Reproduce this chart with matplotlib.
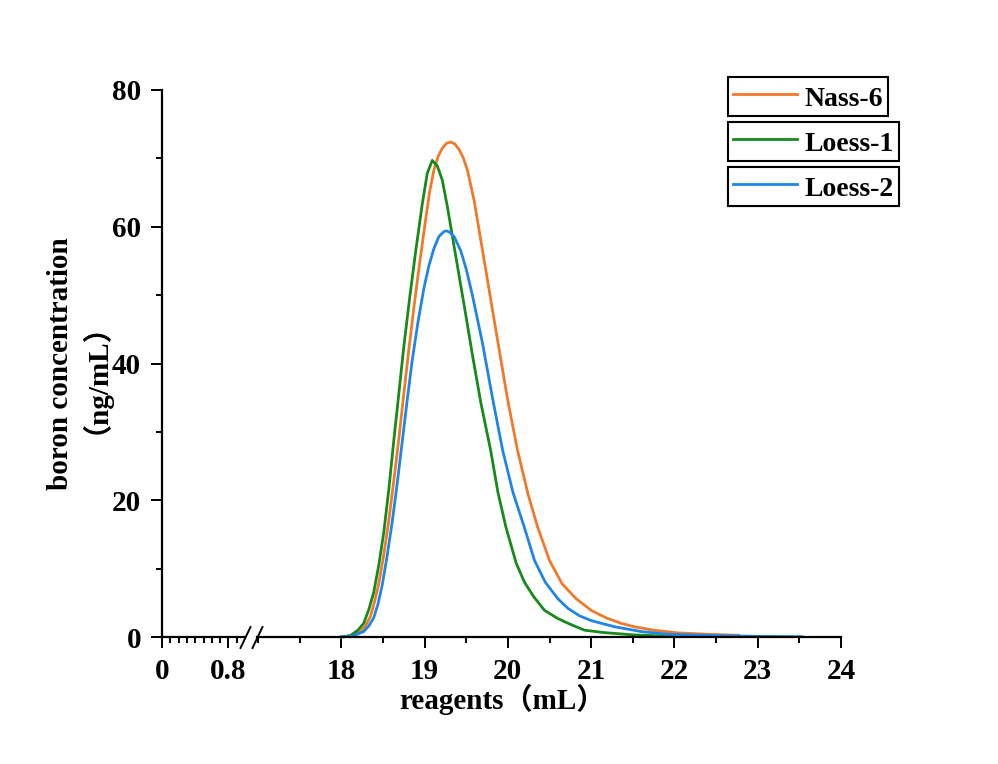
import numpy as np
import matplotlib.pyplot as plt
from matplotlib.lines import Line2D
from matplotlib.ticker import MultipleLocator, FixedLocator

plt.rcParams['font.family'] = ['Liberation Serif', 'Noto Sans CJK SC', 'DejaVu Sans']
plt.rcParams['font.weight'] = 'bold'
plt.rcParams['font.size'] = 20

# values
nass6_x = [18.0, 18.12, 18.229, 18.29, 18.349, 18.4, 18.45, 18.51, 18.57, 18.63,
           18.691, 18.75, 18.811, 18.87, 18.932, 19.012, 19.062, 19.112, 19.163, 19.213,
           19.263, 19.313, 19.364, 19.414, 19.464, 19.514, 19.594, 19.695, 19.795, 19.896,
           19.996, 20.116, 20.24, 20.357, 20.5, 20.65, 20.82, 21.0, 21.18, 21.36,
           21.52, 21.75, 22.04, 22.4, 22.77]
nass6_y = [0.0, 0.2, 0.8, 1.6, 3.0, 5.2, 7.8, 12.0, 17.0, 22.8,
           29.0, 35.5, 42.0, 48.0, 53.9, 61.0, 65.2, 68.3, 70.3, 71.5,
           72.2, 72.4, 72.1, 71.3, 70.1, 68.3, 63.9, 56.6, 49.3, 42.0,
           34.8, 27.3, 21.0, 16.1, 11.2, 7.8, 5.6, 3.9, 2.8, 2.0,
           1.5, 1.0, 0.6, 0.4, 0.25]

loess1_x = [18.0, 18.108, 18.2, 18.269, 18.33, 18.389, 18.45, 18.51, 18.57, 18.631,
            18.69, 18.751, 18.82, 18.892, 18.972, 19.032, 19.092, 19.153, 19.213, 19.273,
            19.373, 19.474, 19.574, 19.675, 19.795, 19.88, 19.976, 20.1, 20.2, 20.31,
            20.44, 20.6, 20.76, 20.92, 21.15, 21.36, 21.52, 22.0]
loess1_y = [0.0, 0.2, 1.0, 2.0, 4.0, 6.5, 10.5, 15.3, 21.5, 28.8,
            35.5, 42.5, 49.5, 56.3, 63.3, 67.8, 69.7, 68.9, 66.8, 63.0,
            55.8, 48.6, 41.3, 34.3, 27.2, 21.2, 16.1, 10.8, 8.0, 5.9,
            3.9, 2.7, 1.8, 1.0, 0.65, 0.45, 0.3, 0.1]

loess2_x = [18.0, 18.14, 18.269, 18.33, 18.389, 18.44, 18.49, 18.55, 18.611, 18.67,
            18.731, 18.79, 18.852, 18.92, 18.992, 19.05, 19.112, 19.173, 19.233, 19.265,
            19.3, 19.353, 19.434, 19.5, 19.574, 19.695, 19.815, 19.936, 20.06, 20.196,
            20.32, 20.45, 20.6, 20.72, 20.86, 21.0, 21.28, 21.6, 21.92, 22.5,
            23.0, 23.53]
loess2_y = [0.0, 0.15, 0.8, 1.6, 2.8, 4.8, 7.5, 11.8, 16.8, 22.3,
            28.5, 34.5, 40.5, 46.0, 51.0, 54.2, 56.8, 58.6, 59.3, 59.4,
            59.2, 58.6, 56.5, 53.8, 50.0, 43.0, 35.0, 27.4, 21.2, 16.1,
            11.2, 8.0, 5.6, 4.2, 3.1, 2.4, 1.5, 0.8, 0.4, 0.2,
            0.1, 0.05]

series = [
    ('Nass-6', nass6_x, nass6_y, '#EF7A2A'),
    ('Loess-1', loess1_x, loess1_y, '#178A1C'),
    ('Loess-2', loess2_x, loess2_y, '#1F86E6'),
]

W, H = 998, 764
fig = plt.figure(figsize=(W / 100, H / 100), dpi=100)

bottom = 1 - 637 / H
height = (637 - 90) / H
ax1 = fig.add_axes([162 / W, bottom, (245 - 162) / W, height])
ax2 = fig.add_axes([257 / W, bottom, (841 - 257) / W, height], sharey=ax1)

ax1.set_xlim(0, 1.0)
ax2.set_xlim(18 - 84 / 83, 24)
ax1.set_ylim(0, 80)

for ax in (ax1, ax2):
    ax.spines['top'].set_visible(False)
    ax.spines['right'].set_visible(False)
    ax.spines['bottom'].set_linewidth(1.6)
    ax.tick_params(which='major', direction='out', length=8, width=1.4, pad=7, labelsize=21)
    ax.tick_params(which='minor', direction='out', length=4.5, width=1.4)
    ax.patch.set_alpha(0)
ax1.spines['left'].set_linewidth(1.6)
ax2.spines['left'].set_visible(False)
ax2.tick_params(axis='y', which='both', left=False, labelleft=False)

ax1.xaxis.set_major_locator(FixedLocator([0, 0.8]))
ax1.xaxis.set_minor_locator(FixedLocator([0.1, 0.2, 0.3, 0.4, 0.5, 0.6, 0.7, 0.9]))
ax1.set_xticklabels(['0', '0.8'])
ax1.yaxis.set_major_locator(MultipleLocator(20))
ax1.yaxis.set_minor_locator(MultipleLocator(10))
ax2.xaxis.set_major_locator(MultipleLocator(1))
ax2.xaxis.set_minor_locator(MultipleLocator(0.5))
ax2.set_xticks([18, 19, 20, 21, 22, 23, 24])

lines = []
for name, xs, ys, col in series:
    ln, = ax2.plot(xs, ys, color=col, lw=2.0, label=name, clip_on=False,
                   solid_joinstyle='round')
    lines.append(ln)

# break marks
for xa, xb in [(240.5, 250.5), (252.5, 262.5)]:
    fig.add_artist(Line2D([xa / W, xb / W], [1 - 648 / H, 1 - 627 / H],
                          transform=fig.transFigure, color='black', lw=1.4))

# separate legend boxes
tops = [77, 122, 167]
for ln, top in zip(lines, tops):
    leg = ax2.legend(handles=[ln], loc='upper left',
                     bbox_to_anchor=(728 / W, 1 - top / H), bbox_transform=fig.transFigure,
                     frameon=True, fancybox=False, edgecolor='black', framealpha=1,
                     borderpad=0.17, borderaxespad=0, handlelength=2.3, handleheight=1.25,
                     handletextpad=0.3, prop={'weight': 'bold', 'size': 20})
    leg.get_frame().set_linewidth(1.5)
    ax2.add_artist(leg)

fig.text(502 / W, 1 - 699 / H, 'reagents（mL）', ha='center', va='center',
         fontsize=21, fontweight='bold')
fig.text(71 / W, 1 - 364 / H, 'boron concentration\n（ng/mL）', ha='center', va='center',
         rotation=90, fontsize=21, fontweight='bold', linespacing=0.62,
         multialignment='center')

fig.savefig('out.png', dpi=100)
